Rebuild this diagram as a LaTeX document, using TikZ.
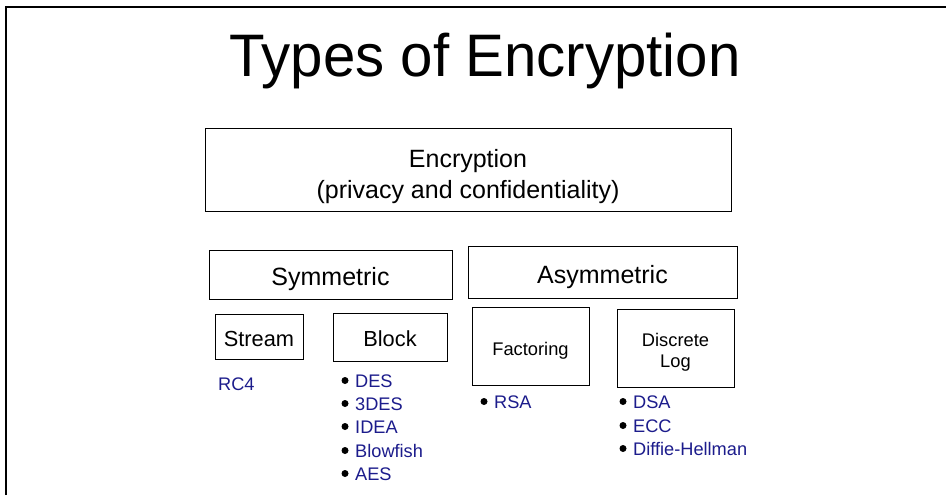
\documentclass[tikz,border=0pt]{standalone}
\usepackage{fontspec}
\setmainfont{Liberation Sans}
\definecolor{itemblue}{RGB}{28,28,140}
\begin{document}
\begin{tikzpicture}[x=1pt,y=-1pt,
  frame/.style={draw=black,line width=0.9pt},
  lbl/.style={anchor=base,inner sep=0pt},
  big/.style={font=\fontsize{25}{30}\selectfont},
  mid/.style={font=\fontsize{21.8}{26}\selectfont},
  sml/.style={font=\fontsize{18.3}{22.5}\selectfont},
  item/.style={anchor=base west,inner sep=0pt,text=itemblue,font=\fontsize{18.2}{22}\selectfont},
  dot/.style={circle,fill=black,inner sep=0pt,minimum size=7pt}]
\useasboundingbox (0,0) rectangle (947,495);
\fill[white] (0,0) rectangle (947,495);
\draw[line width=1.3pt] (6,495) -- (6,7) -- (946,7);
% title
\node[lbl,xscale=0.97,font=\fontsize{60}{66}\selectfont] (title) at (485,77) {Types of Encryption};
% boxes
\draw[frame] (205,128) rectangle (731,211);
\node[lbl,big] (enc) at (468,167) {Encryption};
\node[lbl,big] (encsub) at (468,198) {(privacy and confidentiality)};
\draw[frame] (209,250) rectangle (452,299);
\node[lbl,big] (sym) at (330.5,285) {Symmetric};
\draw[frame] (468,246) rectangle (737,298);
\node[lbl,big] (asym) at (602.5,283) {Asymmetric};
\draw[frame] (215,314) rectangle (303,359);
\node[lbl,mid] (stream) at (259,346) {Stream};
\draw[frame] (333,313) rectangle (447,361);
\node[lbl,mid] (block) at (390,346) {Block};
\draw[frame] (472,307) rectangle (589,385);
\node[lbl,sml] (fact) at (530.5,355) {Factoring};
\draw[frame] (617,309) rectangle (734,387);
\node[lbl,sml] (disc) at (675.5,346) {Discrete};
\node[lbl,sml] (log) at (675.5,367) {Log};
% lists
\node[item] (rc4) at (218,390) {RC4};
\foreach \t/\y/\n in {DES/387/des,3DES/410/tdes,IDEA/433/idea,Blowfish/457/blow,AES/480/aes}{
  \node[dot] (b\n) at (345,\y-6.5) {};
  \node[item] (\n) at (355,\y) {\t};
}
\node[dot] (brsa) at (484,401.5) {};
\node[item] (rsa) at (494,408) {RSA};
\foreach \t/\y/\n in {DSA/408/dsa,ECC/432/ecc,Diffie-Hellman/455/dh}{
  \node[dot] (b\n) at (623,\y-6.5) {};
  \node[item] (\n) at (633,\y) {\t};
}
\end{tikzpicture}
\end{document}
